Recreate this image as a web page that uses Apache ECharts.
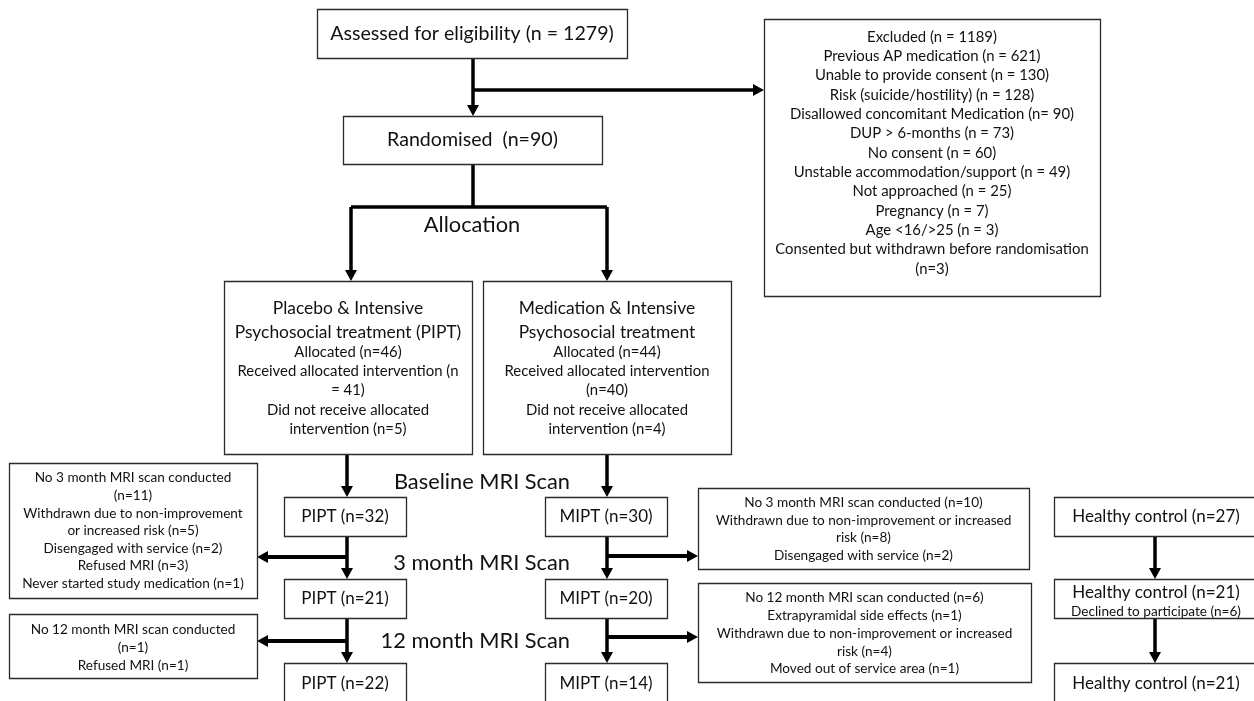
<!DOCTYPE html>
<html><head><meta charset="utf-8">
<script src="https://cdn.jsdelivr.net/npm/echarts@6/dist/echarts.min.js"></script>
<style>html,body{margin:0;padding:0;background:#fff}#c{width:1254px;height:701px}</style>
</head><body><div id="c"></div>
<script>
// ---------- DATA (texts and counts) ----------
const assessedText = ['Assessed for eligibility (n = 1279)'];
const randomisedText = ['Randomised  (n=90)'];
const excludedText = [
  'Excluded (n = 1189)',
  'Previous AP medication (n = 621)',
  'Unable to provide consent (n = 130)',
  'Risk (suicide/hostility) (n = 128)',
  'Disallowed concomitant Medication (n= 90)',
  'DUP > 6-months (n = 73)',
  'No consent (n = 60)',
  'Unstable accommodation/support (n = 49)',
  'Not approached (n = 25)',
  'Pregnancy (n = 7)',
  'Age <16/>25 (n = 3)',
  'Consented but withdrawn before randomisation',
  '(n=3)'
];
const allocationLabel = ['Allocation'];
const piptAllocText = ['Placebo & Intensive', 'Psychosocial treatment (PIPT)', 'Allocated (n=46)',
  'Received allocated intervention (n', '= 41)', 'Did not receive allocated', 'intervention (n=5)'];
const miptAllocText = ['Medication & Intensive', 'Psychosocial treatment', 'Allocated (n=44)',
  'Received allocated intervention', '(n=40)', 'Did not receive allocated', 'intervention (n=4)'];
const scanLabels = ['Baseline MRI Scan', '3 month MRI Scan', '12 month MRI Scan'];
const piptCounts = [32, 21, 22];
const miptCounts = [30, 20, 14];
const healthyCounts = [27, 21, 21];
const healthyNote = ['Declined to participate (n=6)'];
const piptLoss3 = ['No 3 month MRI scan conducted', '(n=11)', 'Withdrawn due to non-improvement',
  'or increased risk (n=5)', 'Disengaged with service (n=2)', 'Refused MRI (n=3)', 'Never started study medication (n=1)'];
const piptLoss12 = ['No 12 month MRI scan conducted', '(n=1)', 'Refused MRI (n=1)'];
const miptLoss3 = ['No 3 month MRI scan conducted (n=10)', 'Withdrawn due to non-improvement or increased',
  'risk (n=8)', 'Disengaged with service (n=2)'];
const miptLoss12 = ['No 12 month MRI scan conducted (n=6)', 'Extrapyramidal side effects (n=1)',
  'Withdrawn due to non-improvement or increased', 'risk (n=4)', 'Moved out of service area (n=1)'];

// ---------- LAYOUT (axis units, separate from data) ----------
const FONT = 'Lato, "Open Sans", sans-serif';
const TOP = 19.6, HEAD = 17.4, STAGE = 17, MED = 14.9, SMALL = 13.6, NOTE = 13.6, LABEL = 21.8;
function evenly(first, step, n) { const a = []; for (let i = 0; i < n; i++) a.push(first + i * step); return a; }
function same(v, n) { return Array(n).fill(v); }

const boxes = [
  { r: [317, 9, 627, 58], lines: assessedText, ys: [33.5], sizes: [TOP] },
  { r: [764, 19, 1100, 296], lines: excludedText, ys: evenly(37, 19.33, 13), sizes: same(MED, 13) },
  { r: [343, 116, 602, 164], lines: randomisedText, ys: [140], sizes: [TOP] },
  { r: [224, 281, 472, 454], lines: piptAllocText, ys: [308, 332, 352, 371, 390, 410, 429], sizes: [HEAD, HEAD, MED, MED, MED, MED, MED] },
  { r: [483, 281, 731, 454], lines: miptAllocText, ys: [308, 332, 352, 371, 390, 410, 429], sizes: [HEAD, HEAD, MED, MED, MED, MED, MED] },
  { r: [9, 463, 257, 598], lines: piptLoss3, ys: evenly(478, 17.6, 7), sizes: same(SMALL, 7) },
  { r: [9, 614, 257, 678], lines: piptLoss12, ys: evenly(630, 17.6, 3), sizes: same(SMALL, 3) },
  { r: [698, 488, 1029, 569], lines: miptLoss3, ys: evenly(503, 17.4, 4), sizes: same(SMALL, 4) },
  { r: [698, 583, 1031, 682], lines: miptLoss12, ys: evenly(598, 17.75, 5), sizes: same(SMALL, 5) }
];
const stageRows = [[497, 536, 516.5], [579, 618, 598.5], [663, 706, 683.5]];
stageRows.forEach((row, i) => {
  boxes.push({ r: [284, row[0], 406, row[1]], lines: ['PIPT (n=' + piptCounts[i] + ')'], ys: [row[2]], sizes: [STAGE] });
  boxes.push({ r: [545, row[0], 667, row[1]], lines: ['MIPT (n=' + miptCounts[i] + ')'], ys: [row[2]], sizes: [STAGE] });
  if (i === 1) {
    boxes.push({ r: [1054, row[0], 1258, row[1]], lines: ['Healthy control (n=' + healthyCounts[i] + ')', healthyNote[0]], ys: [592.5, 611.5], sizes: [STAGE, NOTE] });
  } else {
    boxes.push({ r: [1054, row[0], 1258, row[1]], lines: ['Healthy control (n=' + healthyCounts[i] + ')'], ys: [row[2]], sizes: [STAGE] });
  }
});

const labels = [
  { p: [472, 225], text: allocationLabel[0], align: 'center' },
  { p: [570, 482], text: scanLabels[0], align: 'right' },
  { p: [570, 563], text: scanLabels[1], align: 'right' },
  { p: [570, 641], text: scanLabels[2], align: 'right' }
];

// polylines; arrow head on the last point when head = true
const arrows = [
  { pts: [[473, 58], [473, 116]], head: true, w: 3.5 },
  { pts: [[473, 90], [764, 90]], head: true, w: 3.5 },
  { pts: [[473, 164], [473, 207]], head: false, w: 3.5 },
  { pts: [[351, 207], [607, 207]], head: false, w: 3.5 },
  { pts: [[351, 207], [351, 281]], head: true, w: 3.5 },
  { pts: [[607, 207], [607, 281]], head: true, w: 3.5 },
  { pts: [[347, 454], [347, 497]], head: true, w: 3.5 },
  { pts: [[347, 536], [347, 579]], head: true, w: 3.5 },
  { pts: [[347, 557], [257, 557]], head: true, w: 4 },
  { pts: [[347, 618], [347, 663]], head: true, w: 3.5 },
  { pts: [[347, 641], [257, 641]], head: true, w: 4 },
  { pts: [[607, 454], [607, 497]], head: true, w: 3.5 },
  { pts: [[607, 536], [607, 579]], head: true, w: 3.5 },
  { pts: [[607, 556], [698, 556]], head: true, w: 4 },
  { pts: [[607, 618], [607, 663]], head: true, w: 3.5 },
  { pts: [[607, 637], [698, 637]], head: true, w: 4 },
  { pts: [[1155, 536], [1155, 579]], head: true, w: 3.5 },
  { pts: [[1155, 618], [1155, 663]], head: true, w: 3.5 }
];

// ---------- CHART ----------
const chart = echarts.init(document.getElementById('c'), null, { renderer: 'canvas' });
const TEXT_COLOR = '#111';

function renderBox(params, api) {
  const b = boxes[api.value(4)];
  const p0 = api.coord([api.value(0), api.value(1)]);
  const p1 = api.coord([api.value(2), api.value(3)]);
  const cx = (p0[0] + p1[0]) / 2;
  const children = [{
    type: 'rect',
    shape: { x: Math.round(p0[0]) + 0.5, y: Math.round(p0[1]) + 0.5, width: Math.round(p1[0] - p0[0]), height: Math.round(p1[1] - p0[1]) },
    style: { fill: '#fff', stroke: '#2b2b2b', lineWidth: 1.3 }
  }];
  b.lines.forEach((t, i) => {
    const pt = api.coord([0, b.ys[i]]);
    children.push({
      type: 'text',
      style: { text: t, x: cx, y: pt[1], align: 'center', verticalAlign: 'middle', font: b.sizes[i] + 'px ' + FONT, fill: TEXT_COLOR }
    });
  });
  return { type: 'group', children };
}

function renderArrow(params, api) {
  const a = arrows[api.value(0)];
  const pts = a.pts.map(p => api.coord(p));
  const children = [];
  const n = pts.length;
  let shaft = pts.slice();
  if (a.head) {
    const tip = pts[n - 1], prev = pts[n - 2];
    const dx = tip[0] - prev[0], dy = tip[1] - prev[1];
    const len = Math.hypot(dx, dy), ux = dx / len, uy = dy / len;
    const L = 11, W = 6;
    const base = [tip[0] - ux * L, tip[1] - uy * L];
    shaft[n - 1] = [tip[0] - ux * (L - 1), tip[1] - uy * (L - 1)];
    children.push({
      type: 'polygon',
      shape: { points: [tip, [base[0] - uy * W, base[1] + ux * W], [base[0] + uy * W, base[1] - ux * W]] },
      style: { fill: '#000' }
    });
  }
  children.unshift({
    type: 'polyline',
    shape: { points: shaft },
    style: { stroke: '#000', lineWidth: a.w, fill: null, lineCap: 'butt' }
  });
  return { type: 'group', children };
}

function renderLabel(params, api) {
  const l = labels[api.value(0)];
  const p = api.coord(l.p);
  return {
    type: 'text',
    style: { text: l.text, x: p[0], y: p[1], align: l.align, verticalAlign: 'middle', font: LABEL + 'px ' + FONT, fill: TEXT_COLOR }
  };
}

chart.setOption({
  animation: false,
  backgroundColor: '#fff',
  grid: { left: 0, right: 0, top: 0, bottom: 0 },
  xAxis: { type: 'value', min: 0, max: 1254, show: false },
  yAxis: { type: 'value', min: 0, max: 701, inverse: true, show: false },
  series: [
    { type: 'custom', renderItem: renderArrow, data: arrows.map((a, i) => [i]), clip: false, z: 1 },
    { type: 'custom', renderItem: renderBox, data: boxes.map((b, i) => [b.r[0], b.r[1], b.r[2], b.r[3], i]), clip: false, z: 2 },
    { type: 'custom', renderItem: renderLabel, data: labels.map((l, i) => [i]), clip: false, z: 3 }
  ]
});
</script></body></html>
